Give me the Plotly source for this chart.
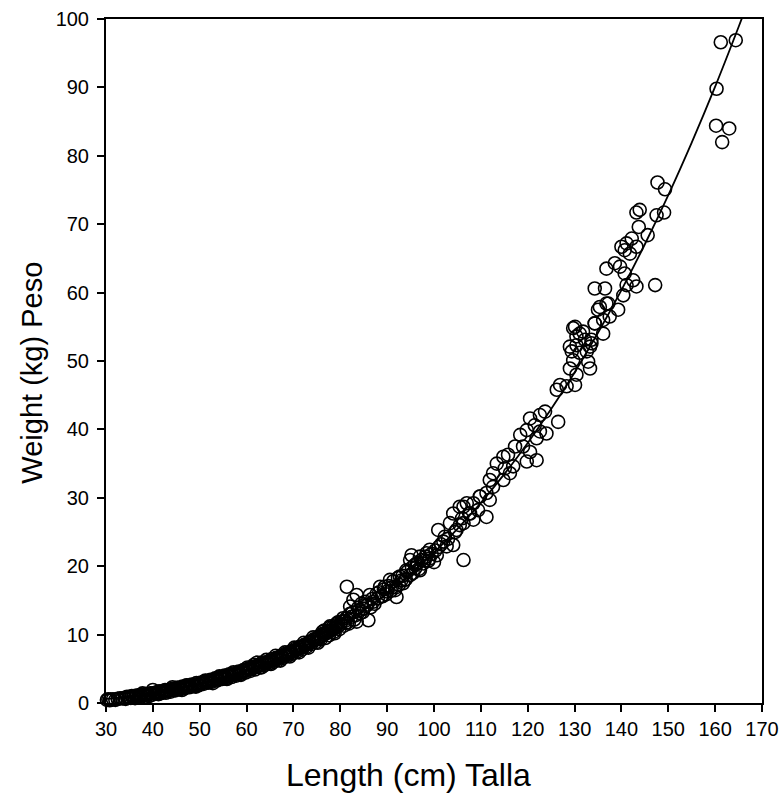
import plotly.graph_objects as go

length_cm = [
    30.2, 30.5, 31.0, 32.5, 33.0, 34.0, 34.5, 35.0, 35.5, 36.0, 36.5, 37.0, 37.5, 38.0, 38.5, 39.0, 39.5, 40.0,
    40.5, 41.0, 41.5, 42.0, 42.5, 43.0, 43.5, 44.0, 44.5, 45.0, 45.5, 46.0, 46.5, 47.0, 47.5, 48.0, 48.5, 49.0,
    49.5, 50.0, 50.5, 51.0, 51.5, 52.0, 52.5, 53.0, 53.5, 54.0, 54.5, 55.0, 55.5, 56.0, 56.5, 57.0, 57.5, 58.0,
    58.5, 59.0, 59.5, 60.0, 60.5, 61.0, 61.5, 62.0, 62.5, 63.0, 63.5, 64.0, 64.5, 65.0, 65.5, 66.0, 66.5, 67.0,
    67.5, 68.0, 68.5, 69.0, 69.5, 70.0, 70.5, 71.0, 71.5, 72.0, 72.5, 73.0, 73.5, 74.0, 74.5, 75.0, 75.5, 76.0,
    76.5, 77.0, 77.5, 78.0, 78.5, 79.0, 79.5,
    36.2, 37.8, 39.2, 41.2, 42.8, 44.2, 46.2, 47.2, 49.2, 51.2, 52.8, 54.2, 55.8, 57.2, 58.8, 60.2, 61.8, 62.2,
    63.2, 64.2, 65.2, 66.2, 67.2, 68.2, 69.2, 70.2, 71.2, 72.2, 73.2, 74.2, 75.2, 76.2, 76.8, 77.8, 78.8, 79.5,
    77.8, 79.2, 80.6, 82.4, 83.5, 82.1, 84.2, 86.0, 84.5, 82.8, 83.5, 81.4, 86.3, 87.8, 92.0, 88.5, 91.7, 89.5,
    93.4, 90.6, 94.9, 92.7, 97.0, 94.1, 95.9, 97.7, 94.9, 95.2, 97.0, 98.4, 100.6, 99.1, 102.7, 106.3, 104.1,
    102.3, 100.9, 103.4, 104.8, 106.3, 108.4, 111.2, 109.8, 107.0, 104.1, 105.5,
    80.0, 81.0, 81.5, 82.0, 83.0, 84.0, 85.0, 85.5, 86.5, 87.0, 88.0, 89.0, 90.0, 91.0, 92.5, 93.0, 94.0, 95.5,
    96.0, 96.5, 98.0, 99.0, 100.0, 101.0, 102.0, 103.0, 104.5, 105.5, 106.0, 107.5,
    130.1, 131.8, 134.3, 136.1, 135.4, 136.8, 130.4, 133.6, 129.0, 132.6, 131.1, 129.7, 132.9, 129.0, 133.3,
    130.4, 126.9, 128.3, 130.1, 126.2, 123.7, 122.6, 126.5, 120.5, 121.5, 124.0, 122.6, 119.8, 118.4, 121.9,
    117.3, 119.0, 120.5, 121.9, 119.8, 115.8, 114.8, 113.4, 116.9, 115.1, 112.6, 116.2, 111.9, 114.8, 112.6,
    111.2, 109.8, 111.9, 108.4, 106.3, 109.4, 107.7,
    147.7, 149.3, 143.2, 143.9, 147.5, 149.1, 143.7, 145.6, 141.1, 142.2, 143.2, 140.7, 141.8, 140.0, 138.6,
    136.8, 139.7, 140.7, 142.5, 143.2, 147.2, 134.3, 136.5, 141.1, 140.4, 135.0, 137.2, 139.3, 137.5, 134.3,
    136.1, 129.7, 131.1, 132.2, 133.6, 130.4, 133.3, 129.4,
    161.2, 164.4, 160.3, 160.2, 163.0, 161.5,
]
weight_kg = [
    0.45, 0.55, 0.5, 0.6, 0.7, 0.75, 0.9, 0.8, 1.0, 0.95, 1.1, 1.05, 1.2, 1.15, 1.3, 1.25, 1.4, 1.9,
    1.5, 1.55, 1.6, 1.7, 1.75, 1.8, 1.9, 1.95, 2.0, 2.1, 2.05, 2.2, 2.3, 2.35, 2.4, 2.5, 2.6, 2.65,
    2.7, 2.85, 2.9, 3.0, 3.1, 3.2, 3.3, 3.4, 3.55, 3.5, 3.7, 3.8, 3.75, 3.95, 4.0, 4.1, 4.2, 4.35,
    4.4, 4.5, 4.7, 4.8, 4.9, 5.0, 5.2, 5.3, 5.4, 5.6, 5.65, 5.8, 5.9, 6.1, 6.2, 6.35, 6.5, 6.6,
    6.8, 6.9, 7.1, 7.2, 7.4, 7.6, 7.7, 7.9, 8.1, 8.2, 8.4, 8.6, 8.8, 9.0, 9.2, 9.3, 9.5, 9.8,
    10.0, 10.2, 10.4, 10.6, 10.8, 11.0, 11.2,
    0.7, 1.4, 1.0, 1.3, 1.5, 2.3, 1.9, 2.6, 2.4, 3.3, 2.9, 3.9, 3.5, 4.5, 4.1, 5.2, 4.9, 5.9,
    5.2, 6.3, 5.7, 6.9, 6.2, 7.4, 6.8, 8.1, 7.4, 8.8, 8.1, 9.6, 8.8, 10.4, 9.5, 11.0, 10.2, 11.8,
    11.2, 11.6, 12.4, 12.6, 11.9, 14.1, 13.1, 12.1, 14.5, 15.1, 15.8, 17.0, 15.8, 16.0, 15.5, 17.0, 16.5, 17.0,
    17.5, 18.0, 18.7, 18.5, 19.4, 19.4, 20.2, 20.4, 20.9, 21.6, 21.4, 21.9, 21.6, 22.4, 22.9, 20.9, 23.1,
    24.3, 25.3, 26.3, 25.3, 26.3, 26.8, 27.2, 30.2, 29.2, 27.7, 28.7,
    11.5, 12.0, 11.8, 13.0, 12.2, 13.6, 13.8, 14.2, 14.0, 14.8, 15.3, 15.6, 16.3, 16.9, 17.3, 17.9, 18.1, 19.0,
    19.7, 20.5, 20.8, 21.1, 20.6, 22.8, 23.6, 24.0, 25.0, 26.0, 27.0, 27.7,
    55.0, 54.3, 55.5, 56.0, 57.9, 58.4, 53.6, 52.6, 52.1, 51.4, 51.2, 50.1, 49.9, 48.9, 48.9,
    48.0, 46.5, 46.3, 46.5, 45.8, 42.6, 42.1, 41.1, 41.6, 40.6, 39.4, 39.7, 39.9, 39.2, 38.7,
    37.5, 37.5, 36.7, 35.5, 35.3, 36.3, 36.0, 35.0, 34.6, 34.3, 33.6, 33.6, 32.6, 32.6, 31.6,
    30.7, 30.2, 29.7, 29.2, 28.7, 28.2, 27.7,
    76.1, 75.1, 71.7, 72.1, 71.3, 71.7, 69.6, 68.4, 67.2, 67.9, 66.7, 66.2, 65.7, 66.7, 64.3,
    63.5, 63.8, 62.8, 61.8, 60.9, 61.1, 60.6, 60.6, 61.1, 59.6, 57.5, 58.4, 57.5, 56.5, 55.5,
    54.0, 54.8, 54.0, 53.1, 53.1, 52.3, 52.1, 51.4,
    96.6, 96.9, 89.8, 84.4, 84.0, 82.0,
]

# Further small fish in the dense band (30-102 cm)
length_cm_small = [
    30.8, 31.5, 32.0, 33.5, 34.2, 34.8, 35.3, 35.8, 36.4, 36.8, 37.3, 37.6, 38.2, 38.7, 39.3, 39.8, 40.3, 40.8,
    41.3, 41.8, 42.3, 42.6, 43.2, 43.8, 44.3, 44.8, 45.3, 45.8, 46.3, 46.8, 47.3, 47.8, 48.3, 48.8, 49.3, 49.8,
    50.3, 50.8, 51.3, 51.8, 52.3, 52.6, 53.3, 53.8, 54.3, 54.8, 55.3, 55.6, 56.3, 56.8, 57.3, 57.8, 58.3, 58.6,
    59.3, 59.8, 60.3, 60.8, 61.3, 61.6, 62.3, 62.8, 63.3, 63.8, 64.3, 64.8, 65.3, 65.8, 66.3, 66.8, 67.3, 67.8,
    68.3, 68.8, 69.3, 69.8, 70.3, 70.8, 71.3, 71.8, 72.3, 72.8, 73.3, 73.8, 74.3, 74.8, 75.3, 75.8, 76.3, 76.6,
    77.3, 77.6, 78.3, 78.6, 79.3, 79.8, 80.3, 80.8, 81.3, 81.8, 82.6, 83.2, 83.8, 84.8, 85.3, 85.8, 86.8, 87.3,
    88.3, 88.8, 89.3, 89.8, 90.3, 90.8, 91.3, 91.8, 92.3, 93.3, 93.8, 94.3, 95.3, 96.3, 96.8, 97.3, 98.3, 98.8,
    99.5, 100.3, 101.5,
]
weight_kg_small = [
    0.4, 0.55, 0.45, 0.65, 0.6, 0.85, 0.75, 0.9, 1.0, 0.85, 1.15, 0.95, 1.25, 1.1, 1.35, 1.2, 1.45, 1.35,
    1.7, 1.45, 1.6, 1.9, 1.7, 1.65, 2.1, 1.85, 2.25, 2.0, 2.4, 2.15, 2.55, 2.3, 2.7, 2.45, 2.9, 2.6,
    3.0, 2.8, 3.2, 2.95, 3.4, 3.1, 3.6, 3.3, 3.8, 3.5, 4.0, 3.6, 4.2, 3.8, 4.35, 4.0, 4.6, 4.2,
    4.8, 4.45, 5.0, 4.7, 5.3, 5.6, 5.5, 5.2, 5.9, 5.5, 6.0, 5.75, 6.4, 6.0, 6.6, 6.3, 6.9, 6.6,
    7.2, 6.9, 7.5, 7.2, 7.9, 7.5, 8.2, 7.8, 8.5, 8.2, 8.9, 8.6, 9.3, 8.9, 9.7, 9.3, 10.1, 10.6,
    10.5, 9.9, 11.0, 10.4, 11.4, 10.8, 11.9, 11.3, 12.4, 11.6, 13.2, 12.8, 13.9, 13.3, 14.8, 14.4, 15.2, 14.5,
    16.2, 15.6, 16.6, 15.9, 17.1, 16.4, 17.8, 16.9, 18.3, 18.6, 18.0, 19.2, 19.8, 20.3, 19.6, 20.9, 21.4, 20.8,
    21.8, 22.3, 23.2,
]

# Fitted length-weight curve
curve_length = [30, 35, 40, 45, 50, 55, 60, 65, 70, 75, 80, 85, 90, 95, 100, 105, 110, 115, 120,
                 125, 130, 135, 140, 145, 150, 155, 160, 165, 166.5]
curve_weight = [0.59, 0.94, 1.41, 2.01, 2.75, 3.66, 4.75, 6.04, 7.55, 9.28, 11.26, 13.51, 16.04, 18.86, 22.0,
                25.47, 29.28, 33.46, 38.02, 42.97, 48.33, 54.13, 60.37, 67.07, 74.25, 81.93, 90.11, 98.83, 101.55]

x_ticks = [30, 40, 50, 60, 70, 80, 90, 100, 110, 120, 130, 140, 150, 160, 170]
y_ticks = [0, 10, 20, 30, 40, 50, 60, 70, 80, 90, 100]
x_title = "Length (cm) Talla"
y_title = "Weight (kg) Peso"

FONT = "Liberation Sans, Arial, sans-serif"

fig = go.Figure()
fig.add_trace(go.Scatter(
    x=length_cm + length_cm_small, y=weight_kg + weight_kg_small, mode="markers",
    marker=dict(symbol="circle-open", size=13, color="black", line=dict(width=1.6, color="black")),
    cliponaxis=False, showlegend=False, hoverinfo="skip",
))
fig.add_trace(go.Scatter(
    x=curve_length, y=curve_weight, mode="lines",
    line=dict(color="black", width=1.8, shape="spline"),
    showlegend=False, hoverinfo="skip",
))

axis_common = dict(
    showline=True, linecolor="black", linewidth=2, mirror=True,
    ticks="outside", ticklen=7, tickwidth=1.5, tickcolor="black",
    showgrid=False, zeroline=False, automargin=False,
    tickfont=dict(family=FONT, size=20, color="black"),
)

fig.update_xaxes(range=[30, 170], tickvals=x_ticks, ticktext=[str(v) for v in x_ticks], **axis_common)
fig.update_yaxes(range=[0, 100], tickvals=y_ticks, ticktext=[str(v) for v in y_ticks],
                 ticklabelstandoff=4, **axis_common)

fig.add_annotation(text=x_title, xref="paper", yref="paper", x=0.461, y=-0.105,
                   xanchor="center", yanchor="middle", showarrow=False,
                   font=dict(family=FONT, size=32, color="black"))
fig.add_annotation(text=y_title, xref="paper", yref="paper", x=-0.1128, y=0.483,
                   xanchor="center", yanchor="middle", showarrow=False, textangle=-90,
                   font=dict(family=FONT, size=29, color="black"))

fig.update_layout(
    width=783, height=799,
    margin=dict(l=106, r=21, t=19, b=96),
    paper_bgcolor="white", plot_bgcolor="white",
    font=dict(family=FONT, color="black"),
)

# remove the page's default body margin so the figure fills the window exactly
fig.write_html("out.html", config={"displayModeBar": False},
               post_script="document.body.style.margin='0';document.body.style.overflow='hidden';")
